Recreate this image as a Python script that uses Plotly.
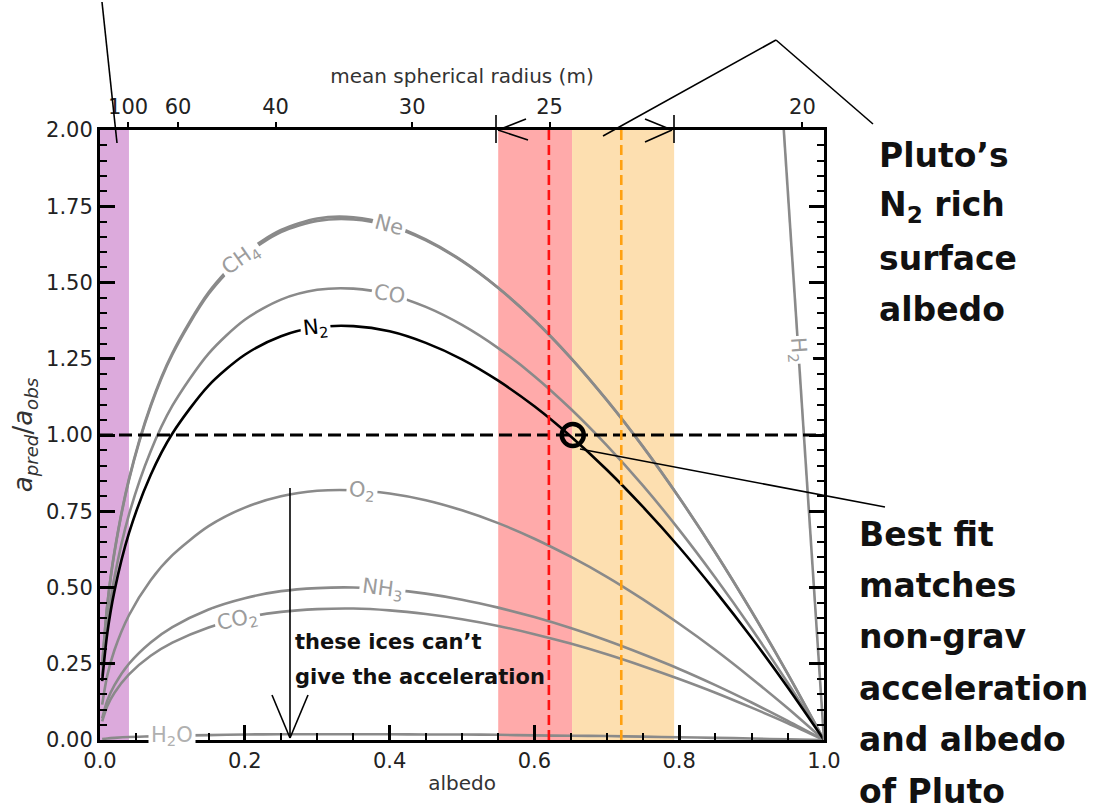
import numpy as np
import plotly.graph_objects as go

# ---------------- data ----------------
albedo = [0.003, 0.01, 0.02, 0.04, 0.07, 0.10, 0.15, 0.20, 0.25, 0.30, 0.35, 0.40,
          0.45, 0.50, 0.55, 0.60, 0.65, 0.70, 0.75, 0.80, 0.85, 0.90, 0.95, 1.00]

ch4_ratio = [0.242, 0.440, 0.615, 0.852, 1.093, 1.264, 1.462, 1.589, 1.665, 1.702, 1.707, 1.685,
             1.638, 1.570, 1.482, 1.376, 1.253, 1.114, 0.961, 0.794, 0.614, 0.421, 0.216, 0.0]
ne_ratio = [0.243, 0.442, 0.618, 0.856, 1.098, 1.269, 1.468, 1.596, 1.672, 1.710, 1.714, 1.690,
            1.641, 1.572, 1.483, 1.377, 1.254, 1.115, 0.962, 0.795, 0.615, 0.422, 0.217, 0.0]
co_ratio = [0.210, 0.381, 0.534, 0.739, 0.947, 1.096, 1.267, 1.378, 1.444, 1.476, 1.480, 1.461,
            1.420, 1.361, 1.285, 1.193, 1.086, 0.966, 0.834, 0.689, 0.532, 0.365, 0.187, 0.0]
n2_ratio = [0.193, 0.349, 0.489, 0.678, 0.869, 1.005, 1.162, 1.263, 1.324, 1.353, 1.357, 1.340,
            1.302, 1.248, 1.178, 1.094, 0.996, 0.886, 0.764, 0.632, 0.488, 0.335, 0.172, 0.0]
o2_ratio = [0.116, 0.211, 0.295, 0.409, 0.524, 0.606, 0.701, 0.762, 0.799, 0.817, 0.819, 0.808,
            0.786, 0.753, 0.711, 0.660, 0.601, 0.535, 0.461, 0.381, 0.295, 0.202, 0.104, 0.0]
nh3_ratio = [0.071, 0.129, 0.180, 0.250, 0.320, 0.370, 0.428, 0.465, 0.488, 0.498, 0.500, 0.493,
             0.480, 0.460, 0.434, 0.403, 0.367, 0.326, 0.281, 0.233, 0.180, 0.123, 0.063, 0.0]
co2_ratio = [0.061, 0.111, 0.155, 0.215, 0.276, 0.319, 0.369, 0.401, 0.420, 0.429, 0.431, 0.425,
             0.413, 0.396, 0.374, 0.347, 0.316, 0.281, 0.242, 0.200, 0.155, 0.106, 0.055, 0.0]
h2o_ratio = [0.003, 0.005, 0.007, 0.010, 0.012, 0.014, 0.016, 0.018, 0.019, 0.019, 0.019, 0.019,
             0.018, 0.018, 0.017, 0.015, 0.014, 0.013, 0.011, 0.009, 0.007, 0.005, 0.002, 0.0]

h2_albedo = [0.930, 0.950, 0.975, 1.000]
h2_ratio = [2.52, 1.80, 0.90, 0.0]

radius_ticks = [100, 60, 40, 30, 25, 20]      # mean spherical radius (m)
radius_at_unit_albedo = 19.7                  # R = 19.7 / sqrt(albedo)

purple_band = [0.0, 0.04]
red_band = [0.55, 0.652]
orange_band = [0.652, 0.793]
red_dash_albedo = 0.62
orange_dash_albedo = 0.72
unity_ratio = 1.0
best_fit = [0.653, 1.0]

# ---------------- figure ----------------
GRAY = "#8a8a8a"
LABEL_GRAY = "#9c9c9c"
FONT = "DejaVu Sans"

fig = go.Figure()

curves = [
    ("CH4", ch4_ratio, GRAY), ("Ne", ne_ratio, GRAY), ("CO", co_ratio, GRAY),
    ("O2", o2_ratio, GRAY), ("NH3", nh3_ratio, GRAY), ("CO2", co2_ratio, GRAY),
    ("H2O", h2o_ratio, GRAY), ("N2", n2_ratio, "black"),
]
for name, vals, col in curves:
    fig.add_trace(go.Scatter(x=albedo, y=vals, mode="lines", name=name,
                             line=dict(color=col, width=2.6, shape="spline", smoothing=0.8),
                             showlegend=False, hoverinfo="skip"))
fig.add_trace(go.Scatter(x=h2_albedo, y=h2_ratio, mode="lines", name="H2",
                         line=dict(color=GRAY, width=2.6), showlegend=False))

# horizontal unity line
fig.add_trace(go.Scatter(x=[0, 1], y=[unity_ratio, unity_ratio], mode="lines",
                         line=dict(color="black", width=3, dash="13px,6px"), showlegend=False))
# vertical dashed lines
fig.add_trace(go.Scatter(x=[red_dash_albedo, red_dash_albedo], y=[0, 2], mode="lines",
                         line=dict(color="#ff1010", width=2.6, dash="10px,5px"), showlegend=False))
fig.add_trace(go.Scatter(x=[orange_dash_albedo, orange_dash_albedo], y=[0, 2], mode="lines",
                         line=dict(color="#ffa010", width=2.6, dash="10px,5px"), showlegend=False))
# best fit circle
fig.add_trace(go.Scatter(x=[best_fit[0]], y=[best_fit[1]], mode="markers",
                         marker=dict(symbol="circle-open", size=22, color="black",
                                     line=dict(width=4.5, color="black")),
                         showlegend=False))
# dummy trace for top axis
fig.add_trace(go.Scatter(x=[0, 1], y=[0, 0], xaxis="x2", mode="lines",
                         line=dict(width=0), showlegend=False, hoverinfo="skip"))

# shaded bands
for band, col in [(purple_band, "#dcaadc"), (red_band, "#ffaaaa"), (orange_band, "#fddfb0")]:
    fig.add_shape(type="rect", xref="x", yref="paper", x0=band[0], x1=band[1], y0=0, y1=1,
                  fillcolor=col, line=dict(width=0), layer="below")

# curve labels (white box gives the gap in the line)
labels = [
    ("CH<sub>4</sub>", albedo, ch4_ratio, 0.195, -35, LABEL_GRAY),
    ("Ne", albedo, ne_ratio, 0.40, 15, LABEL_GRAY),
    ("CO", albedo, co_ratio, 0.40, 10, LABEL_GRAY),
    ("N<sub>2</sub>", albedo, n2_ratio, 0.298, -6, "black"),
    ("O<sub>2</sub>", albedo, o2_ratio, 0.362, 4, LABEL_GRAY),
    ("NH<sub>3</sub>", albedo, nh3_ratio, 0.39, 7, LABEL_GRAY),
    ("CO<sub>2</sub>", albedo, co2_ratio, 0.19, -12, LABEL_GRAY),
    ("H<sub>2</sub>O", albedo, h2o_ratio, 0.10, 0, "#b0b0b0"),
]
for text, xs, ys, xa, ang, col in labels:
    ya = float(np.interp(xa, xs, ys))
    fig.add_annotation(x=xa, y=ya, xref="x", yref="y", text=text, showarrow=False,
                       textangle=ang, bgcolor="white", borderpad=2,
                       font=dict(family=FONT, size=21, color=col))
h2_label_ratio = 1.28
h2_label_x = float(np.interp(h2_label_ratio, h2_ratio[::-1], h2_albedo[::-1]))
fig.add_annotation(x=h2_label_x, y=h2_label_ratio, xref="x", yref="y", text="H<sub>2</sub>",
                   showarrow=False, textangle=86, bgcolor="white", borderpad=1,
                   font=dict(family=FONT, size=21, color=LABEL_GRAY))

# ---------------- decorations in pixel positions ----------------
L, T, W, H = 100, 130, 724, 610


def px(xp, yp):
    return (xp - L) / W, (T + H - yp) / H


def seg(p0, p1, width=1.6, color="black"):
    x0, y0 = px(*p0)
    x1, y1 = px(*p1)
    fig.add_shape(type="line", xref="paper", yref="paper", x0=x0, y0=y0, x1=x1, y1=y1,
                  line=dict(color=color, width=width))


# top-left pointer
seg((102, 2), (117, 143))
# range arrow on top axis
seg((496, 115), (496, 143))
seg((498, 130), (526, 119))
seg((498, 130), (528, 140))
seg((674, 115), (674, 143))
seg((672, 130), (645, 119))
seg((672, 130), (645, 142))
# Pluto surface pointer
seg((603, 136), (776, 40))
seg((776, 40), (873, 124))
# best-fit pointer
seg((580, 449), (885, 507))
# "these ices" arrow
seg((290, 488), (290, 738))
seg((272, 695), (290, 738))
seg((308, 695), (290, 738))

BIG = dict(family="DejaVu Sans", size=33, color="#111111")
for i, line in enumerate(["Pluto’s", "N<sub>2</sub> rich", "surface", "albedo"]):
    x, y = px(877, 155 + 51.5 * i)
    fig.add_annotation(x=x, y=y, xref="paper", yref="paper", text="<b>" + line + "</b>",
                       showarrow=False, xanchor="left", yanchor="middle", font=BIG)
for i, line in enumerate(["Best fit", "matches", "non-grav", "acceleration", "and albedo", "of Pluto"]):
    x, y = px(857, 534 + 51.4 * i)
    fig.add_annotation(x=x, y=y, xref="paper", yref="paper", text="<b>" + line + "</b>",
                       showarrow=False, xanchor="left", yanchor="middle", font=BIG)
for i, line in enumerate(["these ices can’t", "give the acceleration"]):
    x, y = px(293, 642 + 35 * i)
    fig.add_annotation(x=x, y=y, xref="paper", yref="paper", text="<b>" + line + "</b>",
                       showarrow=False, xanchor="left", yanchor="middle",
                       font=dict(family="DejaVu Sans", size=21, color="#111111"))

# ---------------- axes ----------------
tickfont = dict(family=FONT, size=21, color="#222222")
top_tickvals = [(radius_at_unit_albedo / r) ** 2 for r in radius_ticks]

fig.update_layout(
    width=1096, height=811,
    margin=dict(l=L, r=1096 - L - W, t=T, b=811 - T - H),
    plot_bgcolor="white", paper_bgcolor="white",
    showlegend=False,
    xaxis=dict(range=[0, 1], tickvals=[0, 0.2, 0.4, 0.6, 0.8, 1.0], tickformat=".1f",
               ticks="inside", ticklen=15, tickwidth=2.5, tickcolor="black",
               minor=dict(dtick=0.05, ticks="inside", ticklen=7, tickwidth=1.5, tickcolor="black"),
               showline=True, linewidth=3, linecolor="black", mirror=True,
               showgrid=False, zeroline=False, tickfont=tickfont,
               title=dict(text="albedo", font=dict(family=FONT, size=20, color="#333333"), standoff=4)),
    xaxis2=dict(range=[0, 1], overlaying="x", side="top", tickvals=top_tickvals,
                ticktext=[str(r) for r in radius_ticks], ticks="outside", ticklen=5,
                tickwidth=1.5, tickcolor="black", showline=True, linewidth=3, linecolor="black",
                showgrid=False, zeroline=False, tickfont=tickfont,
                title=dict(text="mean spherical radius (m)",
                           font=dict(family=FONT, size=20, color="#333333"), standoff=6)),
    yaxis=dict(range=[0, 2], dtick=0.25, tickformat=".2f",
               ticks="inside", ticklen=15, tickwidth=2.5, tickcolor="black",
               minor=dict(dtick=0.05, ticks="inside", ticklen=7, tickwidth=1.5, tickcolor="black"),
               showline=True, linewidth=3, linecolor="black", mirror="ticks",
               showgrid=False, zeroline=False, tickfont=tickfont,
               title=dict(text="<i>a<sub>pred</sub></i>/<i>a<sub>obs</sub></i>",
                          font=dict(family=FONT, size=26, color="#333333"), standoff=6)),
)

fig.write_html("out.html")
